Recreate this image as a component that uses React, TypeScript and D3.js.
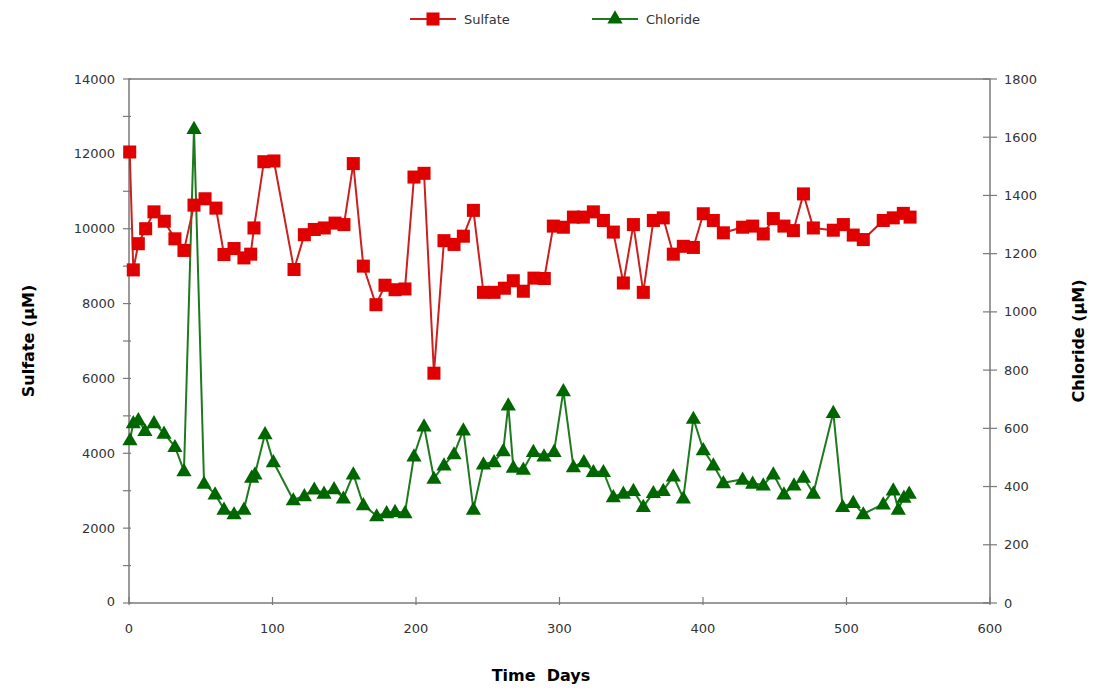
import React, { useEffect, useRef } from "react";
import * as d3 from "d3";

const sulfateDays = [
  0.5, 3, 6.5, 11.6, 17.4, 24.6, 32, 38.3, 45.3, 53, 60.6, 66.2, 73.2, 80.1, 84.8, 87.1,
  94, 101, 115, 122.2, 129.1, 136.1, 143.6, 149.8, 156.3, 163.3, 172.1, 178.4, 185.4,
  192.3, 198.6, 205.6, 212.5, 219.5, 226.5, 233, 240, 247, 254.4, 261.6, 267.8, 274.8,
  282.2, 289.4, 295.7, 302.7, 309.7, 316.6, 323.6, 330.6, 337.5, 344.5, 351.5, 358.4,
  365.4, 372.3, 379.3, 386.3, 393.3, 400.2, 407.2, 414.2, 427.6, 434.6, 442, 449, 456.4,
  463, 470, 476.9, 490.8, 497.8, 504.7, 511.7, 525.6, 532.6, 539.6, 544.3,
];
const sulfateValues = [
  12050, 8900, 9600, 10000, 10450, 10200, 9730, 9420, 10630, 10800, 10550, 9310, 9470,
  9220, 9320, 10020, 11790, 11810, 8910, 9840, 9980, 10020, 10150, 10110, 11740, 9000,
  7970, 8490, 8370, 8390, 11380, 11480, 6140, 9680, 9580, 9800, 10490, 8300, 8300, 8410,
  8610, 8330, 8680, 8670, 10070, 10040, 10310, 10310, 10450, 10220, 9910, 8550, 10110,
  8300, 10220, 10290, 9320, 9530, 9500, 10400, 10220, 9890, 10040, 10070, 9860, 10270,
  10070, 9950, 10930, 10020, 9960, 10110, 9830, 9710, 10220, 10290, 10410, 10310,
];

const chlorideDays = [
  0.7, 3, 6.5, 11.1, 17.4, 24.4, 32, 38.3, 45.3, 52.3, 60, 66.2, 73.2, 80.1, 85.5, 87.8,
  94.8, 100.6, 114.5, 122.2, 129.1, 135.9, 142.9, 149.4, 156.3, 163.3, 172.6, 179.5,
  185.4, 192.3, 198.6, 205.6, 212.5, 219.5, 226.5, 233, 240, 247, 254.4, 260.8, 264.3,
  267.8, 274.8, 281.8, 289.2, 296.2, 302.7, 309.7, 317, 323.6, 330.6, 337.5, 344.5,
  351.5, 358.4, 365.4, 372.3, 379.3, 386.3, 393.3, 400.2, 407.2, 414.2, 427.6, 434.6,
  442, 449, 456.4, 463.4, 470, 476.9, 490.8, 497.3, 504.7, 511.7, 525.6, 532.6, 536.1,
  540, 543.7,
];
const chlorideValues = [
  560, 619, 629, 592, 619, 583, 537, 454, 1630, 411, 374, 322, 306, 322, 432, 443, 581,
  485, 354, 368, 391, 377, 392, 360, 443, 337, 299, 310, 314, 310, 505, 608, 428, 474,
  512, 594, 322, 477, 485, 523, 680, 466, 459, 520, 505, 520, 729, 468, 485, 451, 451,
  365, 377, 386, 331, 379, 386, 436, 360, 634, 526, 474, 413, 425, 411, 405, 443, 374,
  405, 432, 377, 654, 331, 345, 306, 340, 388, 322, 363, 377,
];

const xTicks = [0, 100, 200, 300, 400, 500, 600];
const leftTicks = [0, 2000, 4000, 6000, 8000, 10000, 12000, 14000];
const rightTicks = [0, 200, 400, 600, 800, 1000, 1200, 1400, 1600, 1800];

const FONT = "'DejaVu Sans', sans-serif";
const AXIS = "#7a7a7a";
const RED = "#e00000";
const RED_LINE = "#cc2020";
const GREEN = "#006600";
const GREEN_LINE = "#1f7a1f";

function Chart() {
  const svgRef = useRef<SVGSVGElement>(null);

  useEffect(() => {
    const w = 1099;
    const h = 690;
    const left = 129;
    const right = 990;
    const top = 79;
    const bottom = 603;

    const svg = d3.select(svgRef.current).attr("width", w).attr("height", h);
    svg.selectAll("*").remove();

    const x = d3.scaleLinear().domain([0, 600]).range([left, right]);
    const yL = d3.scaleLinear().domain([0, 14000]).range([bottom, top]);
    const yR = d3.scaleLinear().domain([0, 1800]).range([bottom, top]);

    // frame
    svg
      .append("rect")
      .attr("x", left)
      .attr("y", top)
      .attr("width", right - left)
      .attr("height", bottom - top)
      .attr("fill", "none")
      .attr("stroke", AXIS)
      .attr("stroke-width", 1.5);

    // left axis: labelled every 2000, minor ticks every 1000
    const gL = svg.append("g");
    gL.selectAll("line")
      .data(d3.range(0, 14001, 1000))
      .join("line")
      .attr("x1", left - 6)
      .attr("x2", left + 2)
      .attr("y1", (d) => yL(d))
      .attr("y2", (d) => yL(d))
      .attr("stroke", AXIS)
      .attr("stroke-width", 1.2);
    gL.selectAll("text")
      .data(leftTicks)
      .join("text")
      .attr("x", left - 14)
      .attr("y", (d) => yL(d) - (d === 0 ? 2 : 0))
      .attr("dy", "0.35em")
      .attr("text-anchor", "end")
      .attr("font-family", FONT)
      .attr("font-size", 13)
      .attr("fill", "#333")
      .text((d) => d);

    // right axis
    const gR = svg.append("g");
    gR.selectAll("line")
      .data(rightTicks)
      .join("line")
      .attr("x1", right - 7)
      .attr("x2", right + 7)
      .attr("y1", (d) => yR(d))
      .attr("y2", (d) => yR(d))
      .attr("stroke", AXIS)
      .attr("stroke-width", 1.2);
    gR.selectAll("text")
      .data(rightTicks)
      .join("text")
      .attr("x", right + 14)
      .attr("y", (d) => yR(d))
      .attr("dy", "0.35em")
      .attr("text-anchor", "start")
      .attr("font-family", FONT)
      .attr("font-size", 13)
      .attr("fill", "#333")
      .text((d) => d);

    // x axis
    const gX = svg.append("g");
    gX.selectAll("line")
      .data(xTicks)
      .join("line")
      .attr("x1", (d) => x(d))
      .attr("x2", (d) => x(d))
      .attr("y1", bottom - 6)
      .attr("y2", bottom + 2)
      .attr("stroke", AXIS)
      .attr("stroke-width", 1.2);
    gX.selectAll("text")
      .data(xTicks)
      .join("text")
      .attr("x", (d) => x(d))
      .attr("y", bottom + 30)
      .attr("text-anchor", "middle")
      .attr("font-family", FONT)
      .attr("font-size", 13)
      .attr("fill", "#333")
      .text((d) => d);

    // axis titles
    svg
      .append("text")
      .attr("transform", `translate(34,${(top + bottom) / 2}) rotate(-90)`)
      .attr("text-anchor", "middle")
      .attr("font-family", FONT)
      .attr("font-weight", "bold")
      .attr("font-size", 16)
      .text("Sulfate (µM)");
    svg
      .append("text")
      .attr("transform", `translate(1084,${(top + bottom) / 2}) rotate(-90)`)
      .attr("text-anchor", "middle")
      .attr("font-family", FONT)
      .attr("font-weight", "bold")
      .attr("font-size", 16)
      .text("Chloride (µM)");
    svg
      .append("text")
      .attr("x", 541)
      .attr("y", 681)
      .attr("text-anchor", "middle")
      .attr("font-family", FONT)
      .attr("font-weight", "bold")
      .attr("font-size", 16)
      .attr("xml:space", "preserve")
      .text("Time  Days");

    const sulfate = sulfateDays.map((d, i) => [d, sulfateValues[i]] as [number, number]);
    const chloride = chlorideDays.map((d, i) => [d, chlorideValues[i]] as [number, number]);

    const square = d3.symbol().type(d3.symbolSquare).size(170);
    const triangle = d3.symbol().type(d3.symbolTriangle).size(100);

    // chloride
    svg
      .append("path")
      .datum(chloride)
      .attr("fill", "none")
      .attr("stroke", GREEN_LINE)
      .attr("stroke-width", 2)
      .attr("d", d3.line<[number, number]>().x((d) => x(d[0])).y((d) => yR(d[1])));
    svg
      .append("g")
      .selectAll("path")
      .data(chloride)
      .join("path")
      .attr("transform", (d) => `translate(${x(d[0])},${yR(d[1]) + 1})`)
      .attr("d", triangle)
      .attr("fill", GREEN);

    // sulfate
    svg
      .append("path")
      .datum(sulfate)
      .attr("fill", "none")
      .attr("stroke", RED_LINE)
      .attr("stroke-width", 2)
      .attr("d", d3.line<[number, number]>().x((d) => x(d[0])).y((d) => yL(d[1])));
    svg
      .append("g")
      .selectAll("path")
      .data(sulfate)
      .join("path")
      .attr("transform", (d) => `translate(${x(d[0])},${yL(d[1])})`)
      .attr("d", square)
      .attr("fill", RED);

    // legend
    const legend = [
      { label: "Sulfate", color: RED_LINE, fill: RED, sym: square, x0: 410 },
      { label: "Chloride", color: GREEN_LINE, fill: GREEN, sym: triangle, x0: 592 },
    ];
    const lg = svg.append("g");
    legend.forEach((l) => {
      lg.append("line")
        .attr("x1", l.x0)
        .attr("x2", l.x0 + 46)
        .attr("y1", 19)
        .attr("y2", 19)
        .attr("stroke", l.color)
        .attr("stroke-width", 2);
      lg.append("path")
        .attr("transform", `translate(${l.x0 + 23},19)`)
        .attr("d", l.sym)
        .attr("fill", l.fill);
      lg.append("text")
        .attr("x", l.x0 + 54)
        .attr("y", 19)
        .attr("dy", "0.35em")
        .attr("font-family", FONT)
        .attr("font-size", 13)
        .attr("fill", "#333")
        .text(l.label);
    });
  }, []);

  return <svg ref={svgRef} style={{ position: "absolute", left: 0, top: 0 }}></svg>;
}

export default function App() {
  return (
    <div style={{ background: "#fff" }}>
      <Chart />
    </div>
  );
}
